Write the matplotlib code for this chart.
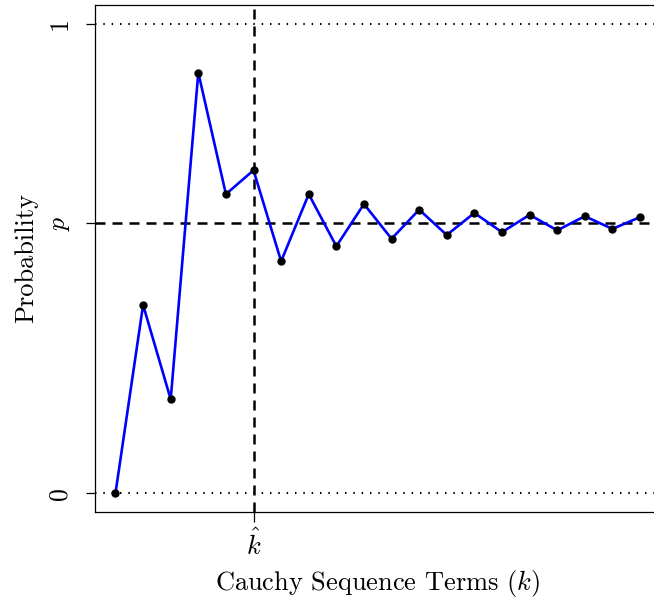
import matplotlib
matplotlib.use('Agg')
import matplotlib.pyplot as plt

plt.rcParams['font.family'] = 'serif'
plt.rcParams['font.serif'] = ['cmr10']
plt.rcParams['mathtext.fontset'] = 'cm'
plt.rcParams['axes.formatter.use_mathtext'] = True

# sequence terms and their probabilities
terms = [1, 2, 3, 4, 5, 6, 7, 8, 9, 10, 11, 12, 13, 14, 15, 16, 17, 18, 19, 20]
prob = [0.0, 0.401, 0.200, 0.896, 0.637, 0.688, 0.494, 0.637, 0.526, 0.616,
        0.542, 0.604, 0.550, 0.597, 0.556, 0.593, 0.560, 0.590, 0.563, 0.588]
p_limit = 0.576
k_hat = 6
y_ticks = [0, p_limit, 1]
y_tick_labels = ['0', r'$p$', '1']

fig = plt.figure(figsize=(6.54, 6.0), dpi=100)
ax = fig.add_axes([0.1445, 0.1467, 0.8662, 0.845])

dotted = (0, (0.7, 3.3))
ax.axhline(0, color='black', lw=1.5, linestyle=dotted)
ax.axhline(1, color='black', lw=1.5, linestyle=dotted)
ax.axhline(p_limit, color='black', lw=1.8, linestyle=(0, (4, 2.8)))
ax.axvline(k_hat, color='black', lw=1.8, linestyle=(0, (4, 2.8)))

ax.plot(terms, prob, color='#0000ff', lw=1.9, zorder=3)
ax.plot(terms, prob, 'o', color='black', markersize=5, zorder=4)

ax.set_xlim(0.24, 20.76)
ax.set_ylim(-0.04, 1.04)

for s in ['left', 'top', 'bottom']:
    ax.spines[s].set_linewidth(0.9)
ax.spines['right'].set_visible(False)

ax.set_xticks([k_hat], [r'$\hat{k}$'], fontsize=19)
ax.set_yticks(y_ticks, y_tick_labels, fontsize=18.5, rotation=90, va='center')
ax.tick_params(axis='x', length=7, width=0.9, pad=5)
ax.tick_params(axis='y', length=6.5, width=0.9, pad=10)

ax.set_xlabel(r'Cauchy Sequence Terms ($k$)', fontsize=19, labelpad=6)
ax.set_ylabel('Probability', fontsize=19, labelpad=7)

plt.savefig('out.png', dpi=100)
